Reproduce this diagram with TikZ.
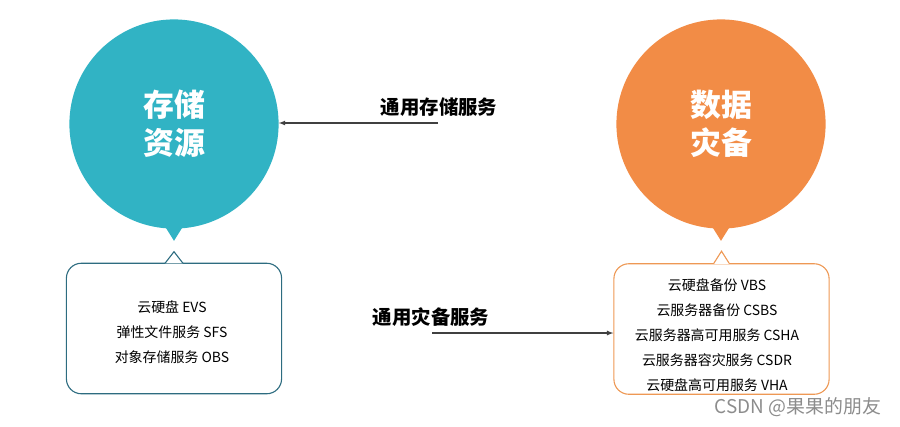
\documentclass[tikz,border=0pt]{standalone}
\usepackage{fontspec}
\setmainfont{Noto Sans CJK SC}
\usetikzlibrary{calc}

\definecolor{tealball}{RGB}{49,179,196}
\definecolor{orangeball}{RGB}{242,140,70}
\definecolor{tealline}{RGB}{45,108,128}
\definecolor{orangeline}{RGB}{238,152,84}

\tikzset{
  ball/.style={circle, minimum size=210, inner sep=0, text=white,
    font=\fontsize{31}{38}\selectfont\bfseries, align=center},
  box/.style={draw, line width=1.1, rounded corners=15, fill=white,
    minimum width=216, minimum height=131},
  list/.style={align=center, font=\fontsize{14}{25}\selectfont},
  service/.style={font=\fontsize{19.5}{22}\selectfont\bfseries},
  link/.style={line width=1.2, draw=black!75, -latex}
}

\begin{document}
\begin{tikzpicture}[x=1bp, y=-1bp]
        \useasboundingbox (0,0) rectangle (900,426);

        % Balls
        \node[ball, fill=tealball] (store) at (174,124) {存储\\资源};
        \fill[tealball] ($(store.south)+(-10,-4)$) -- ($(store.south)+(0,12)$) -- ($(store.south)+(10,-4)$) -- cycle;
        \node[ball, fill=orangeball] (dr) at (721,124) {数据\\灾备};
        \fill[orangeball] ($(dr.south)+(-10,-4)$) -- ($(dr.south)+(0,12)$) -- ($(dr.south)+(10,-4)$) -- cycle;

        % Boxes
        \node[box, draw=tealline] (sbox) at (174,328.5) {};
        \draw[tealline, line width=1.1, fill=white] ($(sbox.north)+(-9,0.6)$) -- ($(sbox.north)+(0,-11)$) -- ($(sbox.north)+(9,0.6)$);
        \node[list] (slist) at (172,332) {云硬盘 EVS\\弹性文件服务 SFS\\对象存储服务 OBS};

        \node[box, draw=orangeline] (dbox) at (721.5,329) {};
        \draw[orangeline, line width=1.1, fill=white] ($(dbox.north)+(-8,0.6)$) -- ($(dbox.north)+(0,-12)$) -- ($(dbox.north)+(8,0.6)$);
        \node[list] (dlist) at (717,335) {云硬盘备份 VBS\\云服务器备份 CSBS\\云服务器高可用服务 CSHA\\云服务器容灾服务 CSDR\\云硬盘高可用服务 VHA};

        % Services
        \node[service] (slabel) at (439,107) {通用存储服务};
        \coordinate (sfrom) at (438,123);
        \draw[link] (sfrom) -- (store.east |- sfrom);

        \node[service] (dlabel) at (431,317) {通用灾备服务};
        \coordinate (dfrom) at (432,333);
        \draw[link] (dfrom) -- (dbox.west |- dfrom);

        % Watermark
        \node[text=black!45, font=\fontsize{19}{22}\selectfont] (mark) at (798,407) {CSDN @果果的朋友};
\end{tikzpicture}
\end{document}
